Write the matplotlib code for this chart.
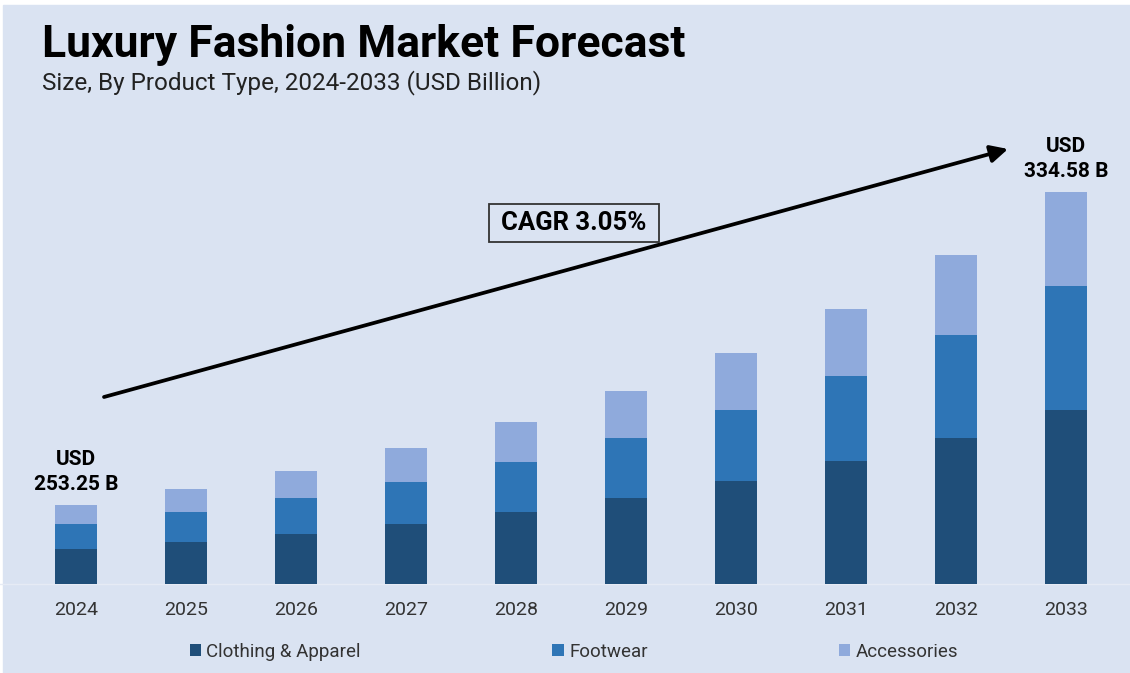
import matplotlib
matplotlib.use("Agg")
import matplotlib.pyplot as plt
from matplotlib.patches import Patch, Rectangle
import numpy as np

# bar segments (chart units, axis is not to scale)
years = ["2024", "2025", "2026", "2027", "2028", "2029", "2030", "2031", "2032", "2033"]
clothing = [34.6, 42.0, 50.0, 60.0, 71.6, 85.6, 102.6, 123.0, 146.0, 174.3]
footwear = [25.4, 29.6, 35.6, 42.3, 50.0, 60.4, 71.7, 84.6, 103.0, 123.3]
accessories = [19.3, 23.0, 27.0, 33.3, 40.4, 47.3, 56.3, 67.7, 80.3, 94.7]
series_names = ["Clothing & Apparel", "Footwear", "Accessories"]

# value callouts
label_idx = [0, 9]
label_text = ["253.25", "334.58"]
cagr_text = "CAGR 3.05%"

title = "Luxury Fashion Market Forecast"
subtitle = "Size, By Product Type, 2024-2033 (USD Billion)"

BG = "#dae3f2"
COLORS = ["#1f4e79", "#2e75b6", "#8faadc"]

plt.rcParams["font.family"] = ["Roboto", "DejaVu Sans"]

W, H = 1130, 673
fig = plt.figure(figsize=(W / 100, H / 100), dpi=100)
fig.patch.set_facecolor("white")
fig.patches.append(Rectangle((3 / W, 0), 1 - 3 / W, (H - 5) / H,
                             transform=fig.transFigure, color=BG, zorder=-10))

# one data unit = one pixel in y, bars 110 px apart starting at x=76
ax = fig.add_axes([0, (H - 584) / H, 1, (584 - 100) / H])
ax.set_facecolor("none")
ax.set_ylim(0, 484)
ax.set_xlim(-76 / 110, (W - 76) / 110)

x = np.arange(len(years))
bw = 0.39
cl = np.array(clothing)
fw = np.array(footwear)
ac = np.array(accessories)
ax.bar(x, cl, bw, color=COLORS[0], zorder=3)
ax.bar(x, fw, bw, bottom=cl, color=COLORS[1], zorder=3)
ax.bar(x, ac, bw, bottom=cl + fw, color=COLORS[2], zorder=3)
tops = cl + fw + ac

for i, t in zip(label_idx, label_text):
	ax.annotate("USD\n{} B".format(t), xy=(x[i], tops[i]), xytext=(0, 8),
				textcoords="offset points", ha="center", va="bottom",
				fontsize=15, fontweight="bold", linespacing=1.35, color="black")

for s in ["left", "right", "top"]:
	ax.spines[s].set_visible(False)
ax.spines["bottom"].set_color("#e6ebf5")
ax.spines["bottom"].set_linewidth(1)
ax.set_yticks([])
ax.set_xticks(x)
ax.set_xticklabels(years, fontsize=14, color="#333333")
ax.tick_params(axis="x", length=0, pad=12)

# growth arrow and CAGR box
ax.annotate("", xy=(1008, H - 149), xytext=(104, H - 397),
			xycoords="figure pixels", textcoords="figure pixels",
			arrowprops=dict(arrowstyle="-|>", lw=2.7, color="black",
							mutation_scale=26, shrinkA=0, shrinkB=0))
fig.patches.append(Rectangle((489 / W, (H - 242) / H), 170 / W, 38 / H,
							 transform=fig.transFigure, facecolor=BG,
							 edgecolor="#333333", linewidth=1.3, zorder=5))
fig.text(574 / W, (H - 223) / H, cagr_text, ha="center", va="center",
		 fontsize=18.5, fontweight="bold", color="black", zorder=6)

fig.text(42 / W, (H - 57) / H, title, fontsize=32, fontweight="bold",
		 color="black", va="baseline")
fig.text(42 / W, (H - 89) / H, subtitle, fontsize=17.5, color="#222222",
		 va="baseline")

handles = [Patch(facecolor=c) for c in COLORS]
fig.legend(handles, series_names, loc="center", ncol=3,
		   bbox_to_anchor=(574 / W, 21 / H), frameon=False, fontsize=13.5,
		   labelcolor="#333333", handlelength=0.6, handleheight=0.6,
		   handletextpad=0.3, columnspacing=10.2)

fig.savefig("out.png", dpi=100, facecolor=fig.get_facecolor())
